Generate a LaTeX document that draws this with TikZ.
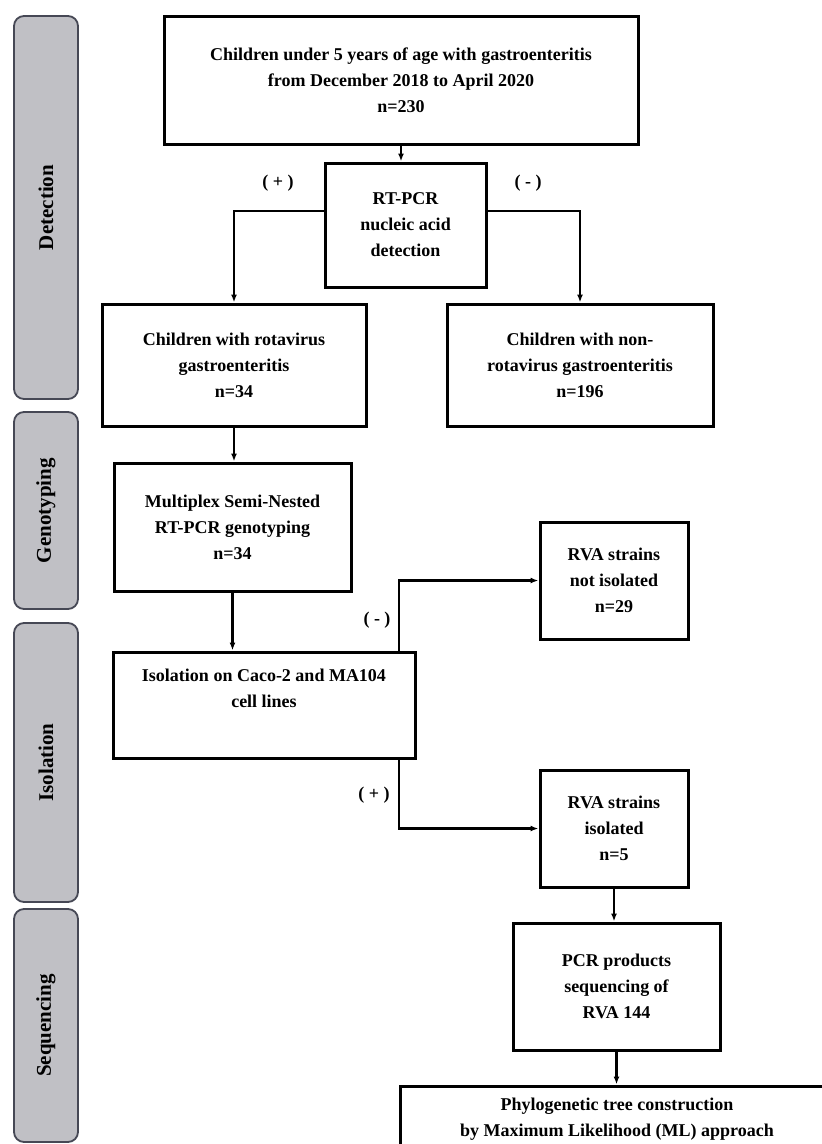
\documentclass[tikz,border=0pt]{standalone}
\usepackage{fontspec}
\setmainfont{Liberation Serif}
\usetikzlibrary{arrows.meta, positioning}
\definecolor{gris}{RGB}{192,192,197}
\definecolor{borde}{RGB}{70,72,85}

\begin{document}
\begin{tikzpicture}[x=1pt,y=-1pt,
  caja/.style={draw=black, line width=3pt, fill=white, align=center, inner sep=0pt,
    font=\fontsize{18}{26}\selectfont\bfseries},
  flecha/.style={line width=2.2pt, -{Latex[length=8pt,width=6pt]}},
  signo/.style={font=\fontsize{18}{20}\selectfont\bfseries},
  fase/.style={draw=borde, line width=1.8pt, fill=gris, rounded corners=10pt},
  etiq/.style={rotate=90, font=\fontsize{21}{22}\selectfont\bfseries}]
\fill[white] (0,0) rectangle (822,1144);
\useasboundingbox (0,0) rectangle (822,1144);
% fases
\foreach \ya/\yb/\txt in {16/399/Detection, 412/609/Genotyping, 623/902/Isolation, 909/1142/Sequencing} {
    \draw[fase] (14,\ya) rectangle (78,\yb);
    \node[etiq] (fase-\txt) at (46,{(\ya+\yb)/2}) {\txt};
}
% cajas
\node[caja, minimum width=474pt, minimum height=128pt] (ninos) at (401,80)
  {Children under 5 years of age with gastroenteritis\\from December 2018 to April 2020\\n=230};
\node[caja, minimum width=161pt, minimum height=124pt] (rtpcr) at (405.5,225)
  {RT-PCR\\nucleic acid\\detection};
\node[caja, minimum width=264pt, minimum height=122pt] (rota) at (234,365)
  {Children with rotavirus\\gastroenteritis\\n=34};
\node[caja, minimum width=266pt, minimum height=122pt] (norota) at (580,365)
  {Children with non-\\rotavirus gastroenteritis\\n=196};
\node[caja, minimum width=237pt, minimum height=128pt] (multi) at (232.5,527)
  {Multiplex Semi-Nested\\RT-PCR genotyping\\n=34};
\node[caja, minimum width=302pt, minimum height=106pt] (aisla) at (264,705)
  {Isolation on Caco-2 and MA104\\cell lines\\[8pt]};
\node[caja, minimum width=148pt, minimum height=117pt] (noaisl) at (614,580.5)
  {RVA strains\\not isolated\\n=29};
\node[caja, minimum width=148pt, minimum height=117pt] (sia) at (614,828.5)
  {RVA strains\\isolated\\n=5};
\node[caja, minimum width=207pt, minimum height=127pt] (pcr) at (616.5,986.5)
  {PCR products\\sequencing of\\RVA 144};
\node[caja, minimum width=434pt, minimum height=66pt] (filo) at (617,1119)
  {Phylogenetic tree construction\\by Maximum Likelihood (ML) approach};
% signos
\node[signo] (mas1) at (278,183) {( + )};
\node[signo] (menos1) at (528,183) {( - )};
\node[signo] (menos2) at (377,620) {( - )};
\node[signo] (mas2) at (374,795) {( + )};
% flechas
\draw[flecha] (ninos.south) -- (ninos.south |- rtpcr.north);
\draw[flecha] (rtpcr.west |- 0,211) -| (rota.north);
\draw[flecha] (rtpcr.east |- 0,211) -| (norota.north);
\draw[flecha] (rota.south) -- (rota.south |- multi.north);
\draw[flecha] (multi.south) -- (multi.south |- aisla.north);
\draw[flecha] (aisla.north -| 399,0) |- (noaisl.west);
\draw[flecha] (aisla.south -| 399,0) |- (sia.west);
\draw[flecha] (sia.south) -- (sia.south |- pcr.north);
\draw[flecha] (pcr.south) -- (pcr.south |- filo.north);
\end{tikzpicture}
\end{document}
